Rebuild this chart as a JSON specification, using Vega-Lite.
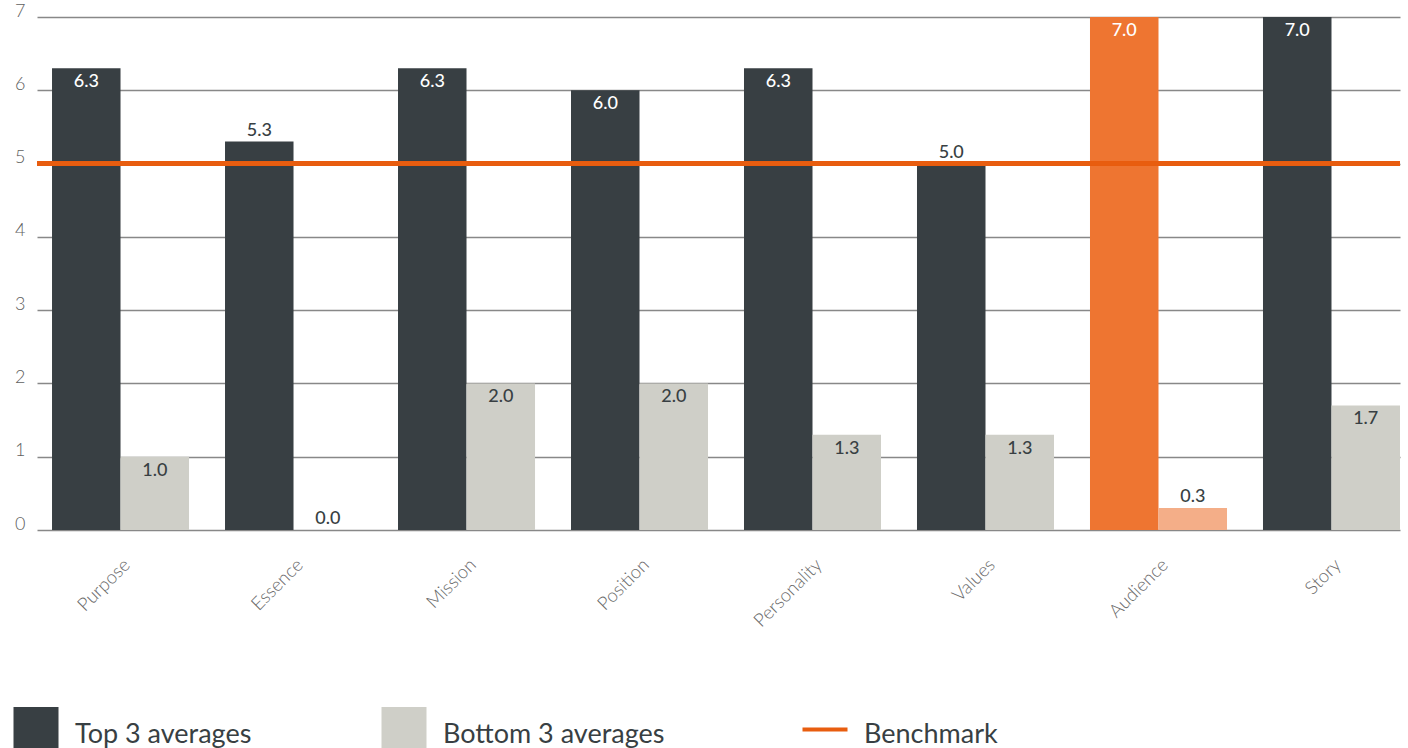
{
  "$schema": "https://vega.github.io/schema/vega-lite/v6.json",
  "width": 1363,
  "height": 513,
  "autosize": {"type": "none"},
  "padding": {"left": 37, "top": 17, "right": 8, "bottom": 218},
  "background": "white",
  "config": {
    "view": {"stroke": null},
    "font": "Lato"
  },
  "data": {
    "values": [
      {"category": "Purpose", "series": "Top 3 averages", "value": 6.3},
      {"category": "Purpose", "series": "Bottom 3 averages", "value": 1.0},
      {"category": "Essence", "series": "Top 3 averages", "value": 5.3},
      {"category": "Essence", "series": "Bottom 3 averages", "value": 0.0},
      {"category": "Mission", "series": "Top 3 averages", "value": 6.3},
      {"category": "Mission", "series": "Bottom 3 averages", "value": 2.0},
      {"category": "Position", "series": "Top 3 averages", "value": 6.0},
      {"category": "Position", "series": "Bottom 3 averages", "value": 2.0},
      {"category": "Personality", "series": "Top 3 averages", "value": 6.3},
      {"category": "Personality", "series": "Bottom 3 averages", "value": 1.3},
      {"category": "Values", "series": "Top 3 averages", "value": 5.0},
      {"category": "Values", "series": "Bottom 3 averages", "value": 1.3},
      {"category": "Audience", "series": "Top 3 averages", "value": 7.0},
      {"category": "Audience", "series": "Bottom 3 averages", "value": 0.3},
      {"category": "Story", "series": "Top 3 averages", "value": 7.0},
      {"category": "Story", "series": "Bottom 3 averages", "value": 1.7}
    ]
  },
  "encoding": {
    "x": {
      "field": "category",
      "type": "nominal",
      "sort": null,
      "scale": {"paddingInner": 0.208, "paddingOuter": 0.0434, "align": 1},
      "axis": {
        "title": null,
        "labelAngle": -45,
        "labelFontSize": 18.5,
        "labelFontWeight": 300,
        "labelColor": "#6a6a6a",
        "labelPadding": 25,
        "ticks": false,
        "domain": false,
        "grid": false
      }
    },
    "xOffset": {"field": "series", "type": "nominal", "sort": ["Top 3 averages", "Bottom 3 averages"]},
    "y": {
      "field": "value",
      "type": "quantitative",
      "scale": {"domain": [0, 7], "nice": false},
      "axis": {
        "title": null,
        "values": [0, 1, 2, 3, 4, 5, 6, 7],
        "labelFontSize": 18,
        "labelFontWeight": 300,
        "labelColor": "#606060",
        "labelPadding": 12,
        "labelBaseline": "alphabetic",
        "labelOffset": -1,
        "ticks": false,
        "domain": false,
        "gridColor": "#888888",
        "gridWidth": 1.3
      }
    }
  },
  "layer": [
    {
      "mark": {"type": "bar"},
      "encoding": {
        "color": {
          "condition": [
            {"test": "datum.category === 'Audience' && datum.series === 'Top 3 averages'", "value": "#EE7531"},
            {"test": "datum.category === 'Audience' && datum.series === 'Bottom 3 averages'", "value": "#F4AE88"}
          ],
          "field": "series",
          "type": "nominal",
          "scale": {
            "domain": ["Top 3 averages", "Bottom 3 averages", "Benchmark"],
            "range": ["#383F43", "#CFCFC8", "#E85D0F"]
          },
          "legend": {
            "title": null,
            "orient": "none",
            "legendX": -14.5,
            "legendY": 699,
            "direction": "horizontal",
            "columns": 3,
            "gridAlign": "none",
            "columnPadding": 130,
            "symbolSize": 2025,
            "symbolType": "square",
            "labelFontSize": 27,
            "labelColor": "#383F43",
            "labelOffset": 25.5,
            "labelLimit": 400,
            "encode": {
              "symbols": {
                "update": {
                  "shape": {"signal": "datum.label === 'Benchmark' ? 'stroke' : 'square'"},
                  "fill": {"signal": "datum.label === 'Top 3 averages' ? '#383F43' : datum.label === 'Bottom 3 averages' ? '#C2C2BA' : '#E85D0F'"},
                  "stroke": {"signal": "datum.label === 'Benchmark' ? '#E85D0F' : null"},
                  "strokeWidth": {"signal": "datum.label === 'Benchmark' ? 4 : 0"},
                  "opacity": {"value": 1}
                }
              },
              "labels": {
                "update": {"dy": {"value": 5}}
              }
            }
          }
        }
      }
    },
    {
      "mark": {"type": "rule", "color": "#E85D0F", "strokeWidth": 4},
      "encoding": {
        "x": null,
        "xOffset": null,
        "y": {"datum": 5}
      }
    },
    {
      "transform": [{"filter": "!(datum.value < 1 || (datum.value >= 5 && datum.value < 5.9))"}],
      "mark": {"type": "text", "baseline": "middle", "dy": 14, "fontSize": 18, "fontWeight": 500},
      "encoding": {
        "text": {"field": "value", "type": "quantitative", "format": ".1f"},
        "color": {
          "condition": {"test": "datum.series === 'Top 3 averages'", "value": "#ffffff"},
          "value": "#383F43"
        }
      }
    },
    {
      "transform": [{"filter": "datum.value < 1 || (datum.value >= 5 && datum.value < 5.9)"}],
      "mark": {"type": "text", "baseline": "middle", "dy": -11, "fontSize": 18, "fontWeight": 500, "color": "#383F43"},
      "encoding": {
        "text": {"field": "value", "type": "quantitative", "format": ".1f"}
      }
    }
  ]
}
